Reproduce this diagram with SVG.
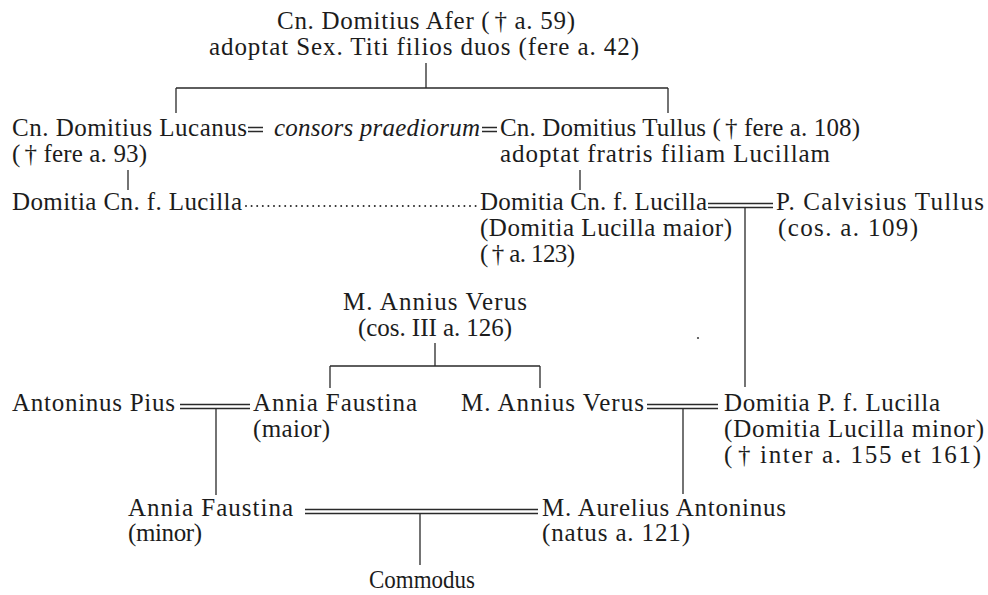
<svg xmlns="http://www.w3.org/2000/svg" width="988" height="595" viewBox="0 0 988 595">
<style>
text{font-family:"Liberation Serif","Times New Roman",serif;font-size:25px;fill:#1c1c1c}
tspan{fill:#1c1c1c}
.it{font-style:italic}
.ln{stroke:#2a2a2a;stroke-width:1.3;fill:none}
.dot{stroke:#2a2a2a;stroke-width:2;stroke-linecap:round;stroke-dasharray:0 5.6;fill:none}
</style>
<rect width="988" height="595" fill="#fff"/>
<g id="connectors">
<path class="ln" d="M426,63V88M176,88H668M176,88V113M668,88V113"/>
<path class="ln" d="M248,127.5H263M248,131.5H263M482,127.5H497M482,131.5H497"/>
<path class="ln" d="M128,170V190M580,170V190"/>
<path class="dot" d="M246,206H477"/>
<path class="ln" d="M708,203.5H773M708,207.5H773M745,207.5V387"/>
<path class="ln" d="M435,343V366M330,366H540M330,366V388M540,366V388"/>
<path class="ln" d="M180,404.5H250M180,408.5H250M216,408.5V495"/>
<path class="ln" d="M647,404.5H718M647,408.5H718M683,408.5V494"/>
<path class="ln" d="M305,509.5H538M305,513.5H538M420,513.5V565"/>
</g>
<g id="afer">
<text><tspan x="277" y="29" textLength="298">Cn. Domitius Afer (<tspan dx="4">†</tspan> a. 59)</tspan><tspan x="209" y="55" textLength="430">adoptat Sex. Titi filios duos (fere a. 42)</tspan></text>
</g>
<g id="lucanus">
<text><tspan x="12" y="136" textLength="235">Cn. Domitius Lucanus</tspan><tspan x="12" y="162" textLength="135">(<tspan dx="4">†</tspan> fere a. 93)</tspan></text>
</g>
<g id="consors">
<text class="it" x="274" y="136" textLength="206">consors praediorum</text>
</g>
<g id="tullus">
<text><tspan x="500" y="136" textLength="360">Cn. Domitius Tullus (<tspan dx="4">†</tspan> fere a. 108)</tspan><tspan x="500" y="162" textLength="330">adoptat fratris filiam Lucillam</tspan></text>
</g>
<g id="lucilla-cn-1">
<text x="12" y="210" textLength="230">Domitia Cn. f. Lucilla</text>
</g>
<g id="lucilla-maior">
<text><tspan x="480" y="210" textLength="227">Domitia Cn. f. Lucilla</tspan><tspan x="480" y="236" textLength="252">(Domitia Lucilla maior)</tspan><tspan x="480" y="262" textLength="95">(<tspan dx="4">†</tspan> a. 123)</tspan></text>
</g>
<g id="calvisius">
<text><tspan x="776" y="210" textLength="208">P. Calvisius Tullus</tspan><tspan x="778" y="236" textLength="140">(cos. a. 109)</tspan></text>
</g>
<g id="annius-verus-sr">
<text><tspan x="343" y="310" textLength="184">M. Annius Verus</tspan><tspan x="358" y="336" textLength="154">(cos. III a. 126)</tspan></text>
</g>
<g id="antoninus-pius">
<text x="12" y="411" textLength="163">Antoninus Pius</text>
</g>
<g id="faustina-maior">
<text><tspan x="253" y="411" textLength="164">Annia Faustina</tspan><tspan x="253" y="437" textLength="77">(maior)</tspan></text>
</g>
<g id="annius-verus-jr">
<text x="461" y="411" textLength="183">M. Annius Verus</text>
</g>
<g id="lucilla-minor">
<text><tspan x="724" y="411" textLength="216">Domitia P. f. Lucilla</tspan><tspan x="724" y="437" textLength="260">(Domitia Lucilla minor)</tspan><tspan x="724" y="463" textLength="257">(<tspan dx="4">†</tspan> inter a. 155 et 161)</tspan></text>
</g>
<g id="faustina-minor">
<text><tspan x="128" y="516" textLength="165">Annia Faustina</tspan><tspan x="128" y="541" textLength="74">(minor)</tspan></text>
</g>
<g id="marcus-aurelius">
<text><tspan x="542" y="516" textLength="244">M. Aurelius Antoninus</tspan><tspan x="542" y="541" textLength="148">(natus a. 121)</tspan></text>
</g>
<g id="commodus">
<text x="369" y="588" textLength="106" lengthAdjust="spacingAndGlyphs">Commodus</text>
</g>
<circle cx="698" cy="338" r="1.1" fill="#444"/>
</svg>
